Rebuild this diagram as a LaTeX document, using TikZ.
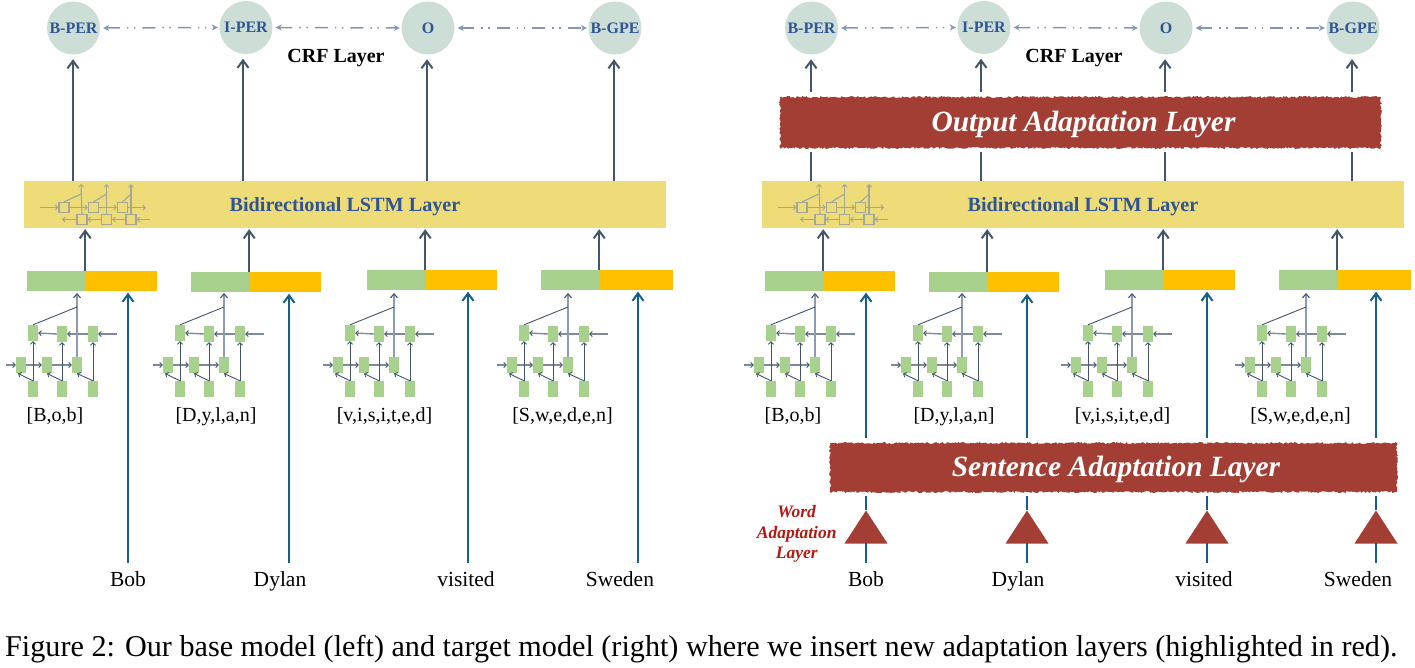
\documentclass[tikz,border=0pt]{standalone}
\usepackage{fontspec}
\setmainfont{Liberation Serif}
\usetikzlibrary{arrows.meta,decorations.pathmorphing,shapes.geometric}
\definecolor{labelfill}{HTML}{CDDED6}
\definecolor{labeltext}{HTML}{2F5597}
\definecolor{barfill}{HTML}{EEDC78}
\definecolor{greenbox}{HTML}{A9D18E}
\definecolor{orangebox}{HTML}{FFC000}
\definecolor{slatearrow}{HTML}{44546A}
\definecolor{linkarrow}{HTML}{8497B0}
\definecolor{greyarrow}{HTML}{8C9BAE}
\definecolor{rowgrey}{HTML}{7D8A9C}
\definecolor{bluearrow}{HTML}{155F8C}
\definecolor{rustred}{HTML}{A33E35}
\definecolor{wordred}{HTML}{B01A12}
\definecolor{iconline}{HTML}{A3A79A}
\tikzset{
  labelnode/.style={circle,fill=labelfill,minimum size=53pt,inner sep=0pt,text=labeltext,text height=10pt,text depth=0pt,font=\bfseries\fontsize{16}{16}\selectfont},
  crf/.style={font=\bfseries\fontsize{20}{20}\selectfont,text=black,inner sep=0pt,anchor=base},
  lstmband/.style={fill=barfill,minimum width=642pt,minimum height=47pt,inner sep=0pt,text=labeltext,text height=14pt,text depth=0pt,font=\bfseries\fontsize{20.2}{20.2}\selectfont},
  greenbar/.style={fill=greenbox,minimum width=58pt,minimum height=20pt,inner sep=0pt},
  orangebar/.style={fill=orangebox,minimum width=72pt,minimum height=20pt,inner sep=0pt},
  charcell/.style={fill=greenbox,minimum width=10pt,minimum height=16pt,inner sep=0pt},
  iconcell/.style={draw=iconline,line width=1.2pt,minimum size=10pt,inner sep=0pt},
  bigarrow/.style={draw=slatearrow,line width=2pt,-{Straight Barb[length=7.5pt,width=11pt,line width=2pt]}},
  plainrise/.style={draw=slatearrow,line width=2pt},
  bluerise/.style={draw=bluearrow,line width=2pt,shorten >=1.5pt,-{Straight Barb[length=7.5pt,width=11pt,line width=2pt]}},
  blueplain/.style={draw=bluearrow,line width=2pt},
  smallarrow/.style={draw=slatearrow,line width=.9pt,-{Straight Barb[length=2.5pt,width=5pt,line width=.9pt]}},
  rowarrow/.style={draw=rowgrey,line width=1.4pt,-{Straight Barb[length=2.5pt,width=5pt,line width=.9pt,color=slatearrow]}},
  greysmall/.style={draw=greyarrow,line width=1.5pt,-{Straight Barb[length=4pt,width=7pt,line width=1.1pt,color=slatearrow]}},
  slimline/.style={draw=slatearrow,line width=.9pt},
  iconarrow/.style={draw=iconline,line width=1.1pt,-{Straight Barb[length=2.5pt,width=5pt,line width=.9pt]}},
  iconstem/.style={draw=iconline,line width=1.1pt},
  crflink/.style={draw=linkarrow,line width=1.5pt,dash pattern=on 13pt off 7pt on 1.5pt off 5.5pt on 1.5pt off 7pt,{Stealth[length=6pt,width=6pt]}-{Stealth[length=6pt,width=6pt]}},
  wordtext/.style={font=\fontsize{21.5}{21.5}\selectfont,text=black,inner sep=0pt,anchor=base},
  chartext/.style={font=\fontsize{20}{20}\selectfont,text=black,inner sep=0pt,anchor=base},
  adaptlayer/.style={inner sep=0pt,anchor=base,text=white,font=\bfseries\itshape\fontsize{29.4}{29.4}\selectfont},
  rough/.style={fill=rustred,decorate,decoration={random steps,segment length=1.6pt,amplitude=1pt}},
  wordtri/.style={isosceles triangle,isosceles triangle stretches,shape border rotate=90,fill=rustred,inner sep=0pt,minimum width=43pt,minimum height=33pt,anchor=apex},
}
% one character-level block: #1 prefix, #2 x shift, #3 y shift
\newcommand{\charblock}[3]{%
\begin{scope}[shift={(#2,#3)}]
  \node[charcell] (#1t1) at (33,333) {};
  \node[charcell] (#1t2) at (62,334) {};
  \node[charcell] (#1t3) at (93,334) {};
  \node[charcell] (#1m1) at (21,365) {};
  \node[charcell] (#1m2) at (47,365) {};
  \node[charcell] (#1m3) at (77,365) {};
  \node[charcell] (#1b1) at (33,389) {};
  \node[charcell] (#1b2) at (62,389) {};
  \node[charcell] (#1b3) at (93,389) {};
  \coordinate (#1in) at (117,334);
  \coordinate (#1inm) at (6,365);
  \coordinate (#1top) at (77,293);
  \coordinate (#1kink) at (77,307);
  \coordinate (#1e1) at (18,373.5);
  \coordinate (#1e2) at (47,373.5);
  \coordinate (#1e3) at (77,373.5);
  \draw[rowarrow] (#1in) -- (#1t3.east);
  \draw[rowarrow] (#1t3.west) -- (#1t2.east);
  \draw[rowarrow] (#1t2.west) -- (#1t1.east);
  \draw[rowarrow] (#1inm) -- (#1m1.west);
  \draw[rowarrow] (#1m1.east) -- (#1m2.west);
  \draw[rowarrow] (#1m2.east) -- (#1m3.west);
  \draw[smallarrow] (#1b1.north) -- (#1t1.south);
  \draw[smallarrow] (#1b2.north) -- (#1t2.south);
  \draw[smallarrow] (#1b3.north) -- (#1t3.south);
  \draw[smallarrow] (#1b1.north) -- (#1e1);
  \draw[smallarrow] (#1b2.north) -- (#1e2);
  \draw[smallarrow] (#1b3.north) -- (#1e3);
  \draw[greysmall] (#1m3.north) -- (#1top);
  \draw[slimline] (#1t1.north) -- (#1kink);
\end{scope}}
% small BiLSTM icon
\newcommand{\lstmicon}[2]{%
\begin{scope}[shift={(#2,0)}]
  \node[iconcell] (#1u1) at (64,207.5) {};
  \node[iconcell] (#1u2) at (93.5,207.5) {};
  \node[iconcell] (#1u3) at (122.5,207.5) {};
  \node[iconcell] (#1d1) at (82,219.5) {};
  \node[iconcell] (#1d2) at (106.5,219.5) {};
  \node[iconcell] (#1d3) at (131,219.5) {};
  \coordinate (#1ua) at (40,207.5);
  \coordinate (#1ub) at (146,207.5);
  \coordinate (#1da) at (150,219.5);
  \coordinate (#1db) at (62,219.5);
  \coordinate (#1v1) at (81,184);
  \coordinate (#1v2) at (106.5,184);
  \coordinate (#1v3) at (131,184);
  \coordinate (#1k1) at (81,194);
  \coordinate (#1k2) at (106.5,194);
  \coordinate (#1k3) at (131,194);
  \draw[iconarrow] (#1ua) -- (#1u1.west);
  \draw[iconarrow] (#1u1.east) -- (#1u2.west);
  \draw[iconarrow] (#1u2.east) -- (#1u3.west);
  \draw[iconarrow] (#1u3.east) -- (#1ub);
  \draw[iconarrow] (#1da) -- (#1d3.east);
  \draw[iconarrow] (#1d3.west) -- (#1d2.east);
  \draw[iconarrow] (#1d2.west) -- (#1d1.east);
  \draw[iconarrow] (#1d1.west) -- (#1db);
  \draw[iconarrow] (#1d1.north) -- (#1v1);
  \draw[iconarrow] (#1d2.north) -- (#1v2);
  \draw[iconarrow] (#1d3.north) -- (#1v3);
  \draw[iconstem] (#1u1.north) -- (#1k1);
  \draw[iconstem] (#1u2.north) -- (#1k2);
  \draw[iconstem] (#1u3.north) -- (#1k3);
\end{scope}}
% parts common to both panels: #1 prefix, #2 x shift
\newcommand{\panel}[2]{%
\begin{scope}[shift={(#2,0)}]
  \node[labelnode] (#1c1) at (73.5,28) {B-PER};
  \node[labelnode] (#1c2) at (246,27.5) {I-PER};
  \node[labelnode] (#1c3) at (428,28) {O};
  \node[labelnode] (#1c4) at (615,28) {B-GPE};
  \node[crf] (#1crf) at (336,62) {CRF Layer};
  \node[lstmband] (#1band) at (345,204.5) {Bidirectional LSTM Layer};
  \draw[crflink] (#1c1.east) ++(3,0) coordinate (#1s1) (#1c2.west) ++(-1.5,0) coordinate (#1e1) (#1s1) -- (#1e1);
  \draw[crflink] (#1c2.east) ++(3,0) coordinate (#1s2) (#1c3.west) ++(-1.5,0) coordinate (#1e2) (#1s2) -- (#1e2);
  \draw[crflink] (#1c3.east) ++(3,0) coordinate (#1s3) (#1c4.west) ++(-1.5,0) coordinate (#1e3) (#1s3) -- (#1e3);
  \node[greenbar] (#1g1) at (56,281) {};
  \node[orangebar] (#1o1) at (121,281) {};
  \node[greenbar] (#1g2) at (220,282) {};
  \node[orangebar] (#1o2) at (285,282) {};
  \node[greenbar] (#1g3) at (396,280) {};
  \node[orangebar] (#1o3) at (461,280) {};
  \node[greenbar] (#1g4) at (570,280) {};
  \node[orangebar,minimum width=74pt] (#1o4) at (636,280) {};
  \draw[bigarrow,xshift=1pt,shorten >=1pt] (#1g1.north east) -- (#1g1.north east |- #1band.south);
  \draw[bigarrow,xshift=1pt,shorten >=1pt] (#1g2.north east) -- (#1g2.north east |- #1band.south);
  \draw[bigarrow,xshift=1pt,shorten >=1pt] (#1g3.north east) -- (#1g3.north east |- #1band.south);
  \draw[bigarrow,xshift=1pt,shorten >=1pt] (#1g4.north east) -- (#1g4.north east |- #1band.south);
  \node[chartext] (#1w1) at (55,421) {[B,o,b]};
  \node[chartext] (#1w2) at (216,421) {[D,y,l,a,n]};
  \node[chartext] (#1w3) at (384.5,421) {[v,i,s,i,t,e,d]};
  \node[chartext] (#1w4) at (562.5,421) {[S,w,e,d,e,n]};
  \node[wordtext] (#1bob) at (128,586) {Bob};
  \node[wordtext] (#1dylan) at (280,586) {Dylan};
  \node[wordtext] (#1visited) at (466,586) {visited};
  \node[wordtext] (#1sweden) at (620,586) {Sweden};
  \coordinate (#1x1) at (73,181);
  \coordinate (#1x2) at (243,181);
  \coordinate (#1x3) at (427,181);
  \coordinate (#1x4) at (614,181);
  \coordinate (#1y1) at (128,563);
  \coordinate (#1y2) at (289,563);
  \coordinate (#1y3) at (468,563);
  \coordinate (#1y4) at (638,563);
\end{scope}
\lstmicon{#1i}{#2}
\charblock{#1p}{#2}{0}
\charblock{#1q}{#2+147}{0}
\charblock{#1r}{#2+317}{0}
\charblock{#1s}{#2+491}{0}}
\begin{document}
\begin{tikzpicture}[x=1pt,y=-1pt]
\useasboundingbox (0,0) rectangle (1415,667);
\panel{L}{0}
\panel{R}{738}
% left panel risers
\foreach \n in {1,2,3,4} {
  \draw[bigarrow,shorten >=4.5pt] (Lx\n) -- (Lx\n |- Lc\n.south);
}
\draw[bluerise] (Ly1) -- (Ly1 |- Lo1.south);
\draw[bluerise] (Ly2) -- (Ly2 |- Lo2.south);
\draw[bluerise] (Ly3) -- (Ly3 |- Lo3.south);
\draw[bluerise] (Ly4) -- (Ly4 |- Lo4.south);
% right panel layers
\fill[rough] (780,97) rectangle (1381,148);
\node[adaptlayer] (outlayer) at (1083.5,131.7) {Output Adaptation Layer};
\fill[rough] (830,443) rectangle (1397,492);
\node[adaptlayer] (sentlayer) at (1116,476.7) {Sentence Adaptation Layer};
\foreach \n in {1,2,3,4} {
  \coordinate (Rh\n) at (Rx\n |- 0,152);
  \coordinate (Rt\n) at (Rx\n |- 0,92);
  \draw[plainrise] (Rx\n) -- (Rh\n);
  \draw[bigarrow,shorten >=4.5pt] (Rt\n) -- (Rt\n |- Rc\n.south);
}
\node[wordtri] (tri1) at (866,510) {};
\node[wordtri] (tri2) at (1027,510) {};
\node[wordtri] (tri3) at (1207,510) {};
\node[wordtri] (tri4) at (1376,510) {};
\foreach \n/\ox in {1/Ro1,2/Ro2,3/Ro3,4/Ro4} {
  \draw[blueplain] (tri\n.apex |- 0,562.5) -- (tri\n.apex |- 0,543);
  \draw[blueplain] (tri\n.apex) -- (tri\n.apex |- 0,496);
  \draw[bluerise] (tri\n.apex |- 0,438) -- (tri\n.apex |- \ox.south);
}
\node[align=center,text=wordred,inner sep=0pt,font=\bfseries\itshape\fontsize{17.5}{20.5}\selectfont] (wal) at (796.7,534) {Word\\Adaptation\\Layer};
\node[anchor=base west,inner sep=0pt,text=black,font=\fontsize{30.18}{30.18}\selectfont] (caption) at (5,656) {Figure 2: Our base model (left) and target model (right) where we insert new adaptation layers (highlighted in red).};
\end{tikzpicture}
\end{document}
